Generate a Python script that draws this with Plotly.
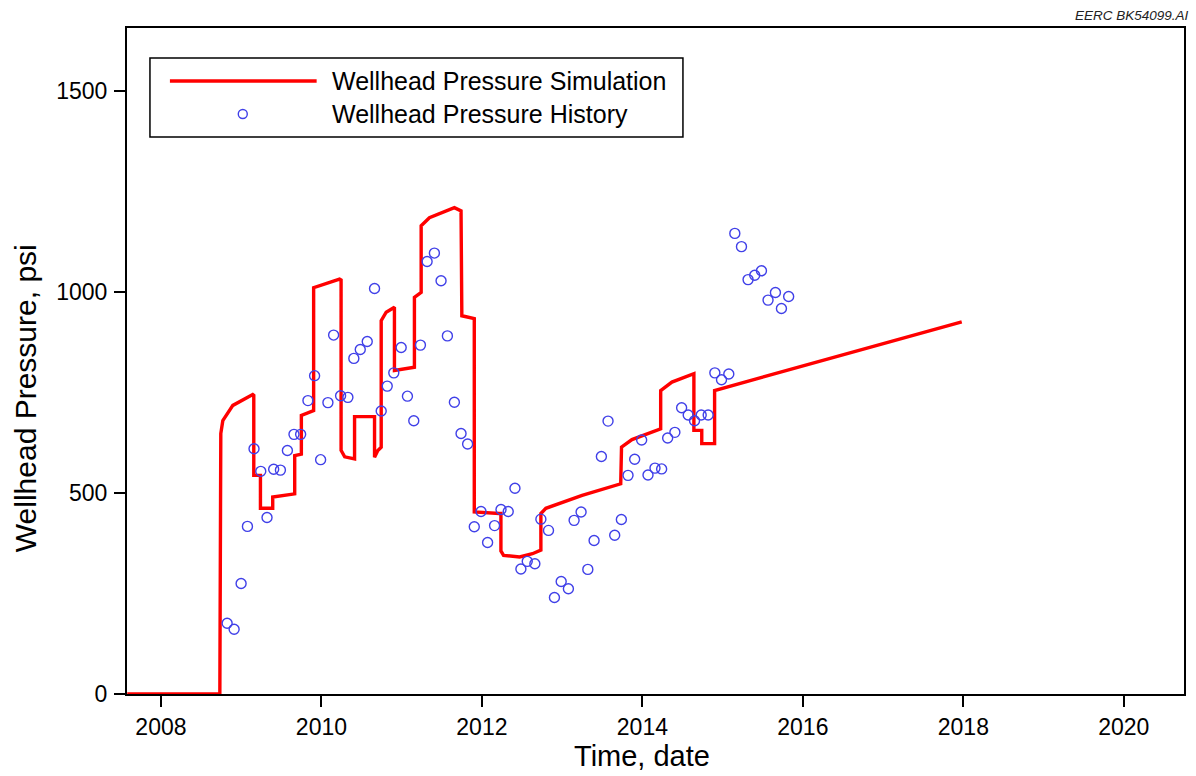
import plotly.graph_objects as go

# ---------------- data ----------------
sim_year = [2007.58, 2008.734, 2008.746, 2008.771, 2008.896, 2009.144, 2009.157, 2009.157,
            2009.240, 2009.240, 2009.393, 2009.393, 2009.667, 2009.667, 2009.750, 2009.750,
            2009.903, 2009.903, 2010.226, 2010.245, 2010.245, 2010.290, 2010.413, 2010.413,
            2010.662, 2010.662, 2010.703, 2010.745, 2010.745, 2010.807, 2010.910, 2010.910,
            2011.159, 2011.159, 2011.243, 2011.243, 2011.346, 2011.657, 2011.740, 2011.750,
            2011.905, 2011.905, 2012.216, 2012.237, 2012.237, 2012.270, 2012.470, 2012.630,
            2012.735, 2012.735, 2012.797, 2013.249, 2013.730, 2013.740, 2013.870, 2014.228,
            2014.228, 2014.368, 2014.642, 2014.642, 2014.740, 2014.740, 2014.900, 2014.900,
            2017.980]
sim_psi = [0, 0, 648, 680, 718, 745, 743, 544,
           544, 462, 462, 490, 498, 593, 597, 693,
           705, 1011, 1032, 1030, 606, 590, 585, 690,
           690, 589, 606, 614, 929, 950, 962, 805,
           813, 987, 999, 1165, 1185, 1210, 1202, 941,
           934, 453, 449, 449, 356, 345, 341, 349,
           358, 449, 462, 494, 523, 614, 633, 660,
           755, 776, 797, 656, 656, 623, 623, 755,
           926]

hist_year = [2008.825, 2008.912, 2008.999, 2009.078, 2009.160, 2009.244, 2009.322, 2009.405,
             2009.489, 2009.576, 2009.658, 2009.741, 2009.832, 2009.915, 2009.990, 2010.081,
             2010.152, 2010.239, 2010.330, 2010.404, 2010.484, 2010.571, 2010.662, 2010.745,
             2010.820, 2010.902, 2010.994, 2011.072, 2011.151, 2011.234, 2011.317, 2011.408,
             2011.491, 2011.570, 2011.657, 2011.740, 2011.822, 2011.905, 2011.989, 2012.071,
             2012.158, 2012.238, 2012.328, 2012.412, 2012.486, 2012.565, 2012.660, 2012.735,
             2012.830, 2012.904, 2012.988, 2013.078, 2013.149, 2013.236, 2013.320, 2013.398,
             2013.489, 2013.572, 2013.655, 2013.738, 2013.821, 2013.904, 2013.991, 2014.070,
             2014.157, 2014.240, 2014.315, 2014.405, 2014.489, 2014.571, 2014.650, 2014.733,
             2014.820, 2014.903, 2014.986, 2015.077, 2015.152, 2015.235, 2015.317, 2015.400,
             2015.484, 2015.566, 2015.658, 2015.733, 2015.823]
hist_psi = [176, 161, 275, 417, 610, 554, 439, 559,
            557, 606, 646, 646, 730, 792, 583, 725,
            893, 742, 738, 835, 857, 877, 1009, 704,
            766, 799, 862, 741, 680, 868, 1076, 1097,
            1028, 891, 726, 648, 622, 416, 454, 377,
            419, 459, 454, 512, 311, 330, 324, 435,
            407, 240, 280, 262, 432, 453, 310, 382,
            591, 679, 395, 434, 544, 584, 632, 545,
            562, 560, 637, 651, 712, 694, 680, 694,
            694, 799, 782, 796, 1146, 1113, 1031, 1042,
            1053, 980, 999, 959, 989]

x_ticks = [2008, 2010, 2012, 2014, 2016, 2018, 2020]
x_tick_labels = ["2008", "2010", "2012", "2014", "2016", "2018", "2020"]
y_ticks = [0, 500, 1000, 1500]
y_tick_labels = ["0", "500", "1000", "1500"]

series_names = ["Wellhead Pressure Simulation", "Wellhead Pressure History"]

# ---------------- styles ----------------
RED = "#ff0000"
BLUE = "rgb(64,64,232)"
FONT = "Arial, Liberation Sans, sans-serif"

W, H = 1196, 776
L, R, T, B = 127, 10, 28, 82
PW, PH = W - L - R, H - T - B


def px(x):
    return (x - L) / PW


def py(y):
    return (H - B - y) / PH


fig = go.Figure()
fig.add_trace(go.Scatter(x=sim_year, y=sim_psi, mode="lines", name=series_names[0],
                         line=dict(color=RED, width=3.4), showlegend=False,
                         hoverinfo="skip"))
fig.add_trace(go.Scatter(x=hist_year, y=hist_psi, mode="markers", name=series_names[1],
                         marker=dict(symbol="circle-open", size=10, color=BLUE,
                                     line=dict(width=1.4, color=BLUE)),
                         showlegend=False, cliponaxis=False))

axis_common = dict(showline=True, linecolor="black", linewidth=2, mirror=True,
                   ticks="outside", ticklen=11, tickwidth=2, tickcolor="black",
                   showgrid=False, zeroline=False,
                   tickfont=dict(family=FONT, size=23, color="black"))

fig.update_xaxes(range=[2007.577, 2020.75], tickvals=x_ticks, ticktext=x_tick_labels,
                 ticklabelstandoff=0, **axis_common)
fig.update_yaxes(range=[0, 1657], tickvals=y_ticks, ticktext=y_tick_labels,
                 ticklabelstandoff=2, **axis_common)

annotations = [
    dict(text="Time, date", x=px(643), y=py(756), xref="paper", yref="paper",
         showarrow=False, xanchor="center", yanchor="middle",
         font=dict(family=FONT, size=29, color="black")),
    dict(text="Wellhead Pressure, psi", x=px(25), y=py(398), xref="paper", yref="paper",
         showarrow=False, xanchor="center", yanchor="middle", textangle=-90,
         font=dict(family=FONT, size=30, color="black")),
    dict(text="<i>EERC BK54099.AI</i>", x=px(1193), y=py(16), xref="paper", yref="paper",
         showarrow=False, xanchor="right", yanchor="middle",
         font=dict(family=FONT, size=13.5, color="#222")),
    dict(text=series_names[0], x=px(330), y=py(81), xref="paper", yref="paper",
         showarrow=False, xanchor="left", yanchor="middle",
         font=dict(family=FONT, size=25, color="black")),
    dict(text=series_names[1], x=px(330), y=py(114), xref="paper", yref="paper",
         showarrow=False, xanchor="left", yanchor="middle",
         font=dict(family=FONT, size=25, color="black")),
]

shapes = [
    # legend box
    dict(type="rect", xref="paper", yref="paper", x0=px(150), x1=px(684),
         y0=py(137), y1=py(58), line=dict(color="black", width=1.5),
         fillcolor="white", layer="above"),
    # legend line sample
    dict(type="line", xref="paper", yref="paper", x0=px(170), x1=px(317),
         y0=py(81), y1=py(81), line=dict(color=RED, width=3.4), layer="above"),
    # legend marker sample
    dict(type="circle", xref="paper", yref="paper", xsizemode="pixel", ysizemode="pixel",
         xanchor=px(243), yanchor=py(114), x0=-4.5, x1=4.5, y0=-4.5, y1=4.5,
         line=dict(color=BLUE, width=1.4), layer="above"),
]

fig.update_layout(width=W, height=H, margin=dict(l=L, r=R, t=T, b=B),
                  paper_bgcolor="white", plot_bgcolor="white",
                  annotations=annotations, shapes=shapes, showlegend=False,
                  font=dict(family=FONT, color="black"))

fig.write_html("out.html")
